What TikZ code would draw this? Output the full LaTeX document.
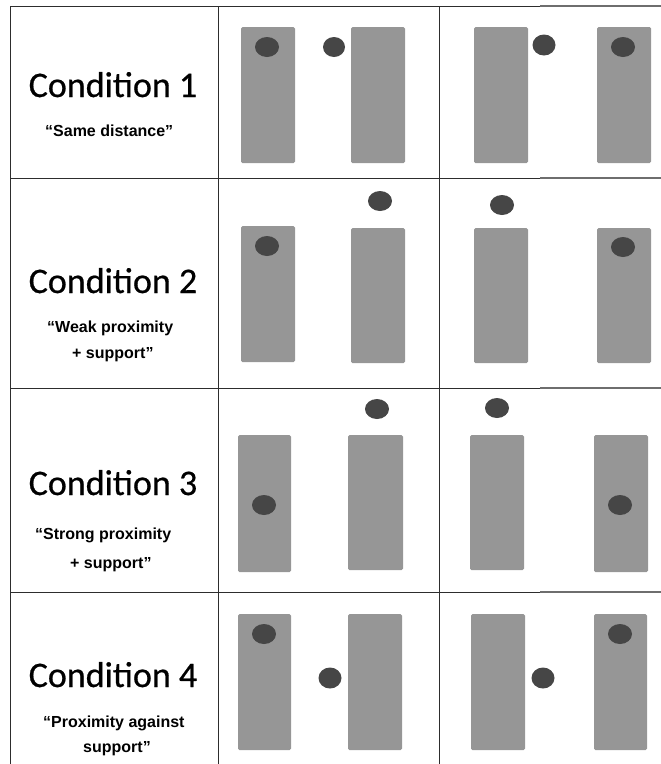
\documentclass[tikz,border=0pt]{standalone}
\usepackage{fontspec}
\newfontfamily\condfont{Carlito}[FakeBold=0.6]
\newfontfamily\quotefont{Liberation Sans}
\definecolor{blockgray}{RGB}{150,150,150}
\definecolor{ballgray}{RGB}{70,70,70}
\definecolor{rulegray}{RGB}{45,45,45}
\definecolor{fadegray}{RGB}{110,110,110}

\begin{document}
\begin{tikzpicture}[x=1pt, y=-1pt,
   gridline/.style={draw=rulegray, line width=0.9pt},
   fadeline/.style={draw=fadegray, line width=1.1pt},
   block/.style={fill=blockgray, rounded corners=1.5pt},
   ball/.style={fill=ballgray},
   cond/.style={anchor=base, inner sep=0pt, font=\condfont\fontsize{36}{40}\selectfont},
   quotetext/.style={anchor=base west, inner sep=0pt, font=\quotefont\bfseries\fontsize{16}{19}\selectfont}]
  \useasboundingbox (0,0) rectangle (661,764);
  % table rules
  \foreach \y in {6,178,388,592}{
    \draw[gridline] (10,\y) -- (540,\y);
    \draw[fadeline] (540,\y) -- (661,\y);
  }
  \foreach \x in {10,218.5,439}
    \draw[gridline] (\x,6) -- (\x,764);

  % condition 1
  \node[cond] (cond1) at (113,97) {Condition 1};
  \node[quotetext] (same) at (45,136) {“Same distance”};
  \fill[block] (241,27) rectangle (295,163);
  \fill[block] (351,27) rectangle (405,163);
  \fill[block] (474,27) rectangle (528,163);
  \fill[block] (597,27) rectangle (651,163);
  \fill[ball] (267,47) ellipse [x radius=12pt, y radius=10pt];
  \fill[ball] (334,47) ellipse [x radius=11pt, y radius=10pt];
  \fill[ball] (544,45) ellipse [x radius=11.5pt, y radius=10.5pt];
  \fill[ball] (623,47) ellipse [x radius=12pt, y radius=10pt];

  % condition 2
  \node[cond] (cond2) at (113,293) {Condition 2};
  \node[quotetext] (weak) at (47,332) {“Weak proximity};
  \node[quotetext] (weaksup) at (72,358) {+ support”};
  \fill[block] (241,226) rectangle (295,362);
  \fill[block] (351,228) rectangle (405,363);
  \fill[block] (474,228) rectangle (528,363);
  \fill[block] (597,228) rectangle (651,363);
  \fill[ball] (267,246) ellipse [x radius=12pt, y radius=10pt];
  \fill[ball] (380,201) ellipse [x radius=12pt, y radius=10pt];
  \fill[ball] (502,205) ellipse [x radius=12pt, y radius=10pt];
  \fill[ball] (623,247) ellipse [x radius=12pt, y radius=10pt];

  % condition 3
  \node[cond] (cond3) at (113,495) {Condition 3};
  \node[quotetext] (strong) at (35,539) {“Strong proximity};
  \node[quotetext] (strongsup) at (70,568) {+ support”};
  \fill[block] (238,435) rectangle (291,572);
  \fill[block] (348,435) rectangle (403,570);
  \fill[block] (470,435) rectangle (524,570);
  \fill[block] (594,435) rectangle (648,572);
  \fill[ball] (264,505) ellipse [x radius=12pt, y radius=10pt];
  \fill[ball] (377,409) ellipse [x radius=12pt, y radius=10pt];
  \fill[ball] (497,408) ellipse [x radius=12pt, y radius=10pt];
  \fill[ball] (620,505) ellipse [x radius=12pt, y radius=10pt];

  % condition 4
  \node[cond] (cond4) at (113,687) {Condition 4};
  \node[quotetext] (against) at (43,727) {“Proximity against};
  \node[quotetext] (againstsup) at (83,752) {support”};
  \fill[block] (238,614) rectangle (291,750);
  \fill[block] (348,614) rectangle (402,750);
  \fill[block] (471,614) rectangle (525,750);
  \fill[block] (594,614) rectangle (647,750);
  \fill[ball] (264,634) ellipse [x radius=12pt, y radius=10pt];
  \fill[ball] (330,678) ellipse [x radius=11.5pt, y radius=10.5pt];
  \fill[ball] (543,678) ellipse [x radius=11.5pt, y radius=10.5pt];
  \fill[ball] (620,634) ellipse [x radius=12pt, y radius=10pt];
\end{tikzpicture}
\end{document}
